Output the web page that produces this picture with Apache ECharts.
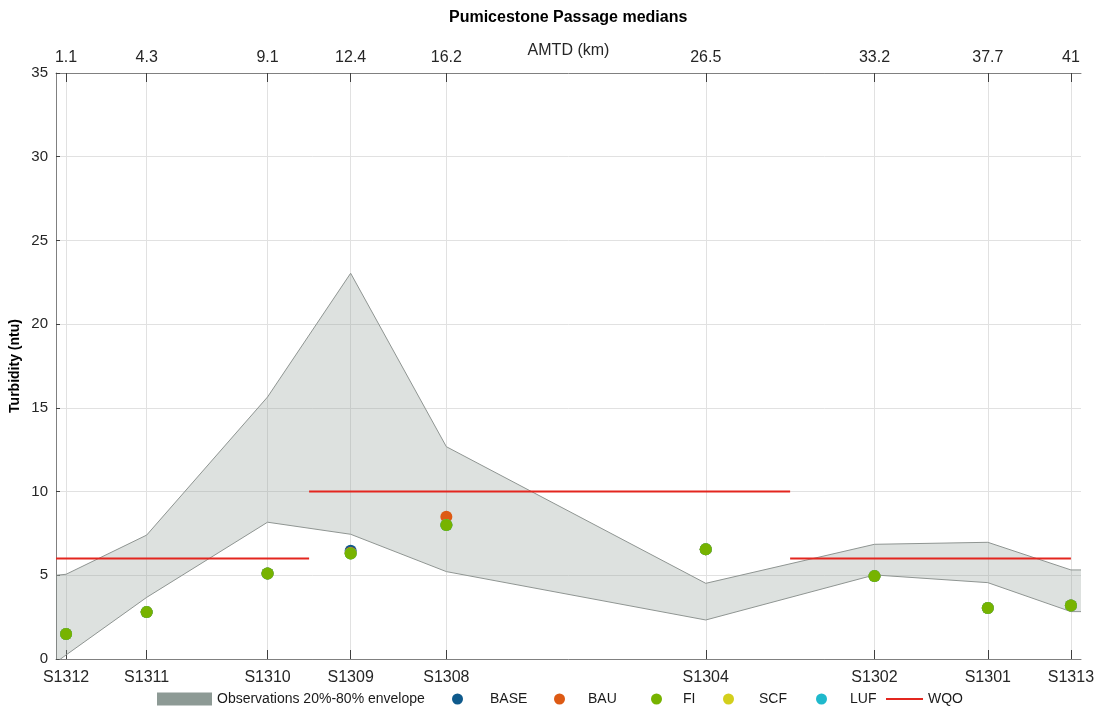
<!DOCTYPE html>
<html>
<head>
<meta charset="utf-8">
<title>Pumicestone Passage medians</title>
<script src="https://cdn.jsdelivr.net/npm/echarts@6/dist/echarts.min.js"></script>
<style>
	html, body { margin: 0; padding: 0; background: #fff; }
	#chart { width: 1102px; height: 711px; }
</style>
</head>
<body>
<div id="chart"></div>
<script>
// sites along the passage (AMTD in km)
var siteNames = ["S1312", "S1311", "S1310", "S1309", "S1308", "S1304", "S1302", "S1301", "S1313"];
var siteAmtd = [1.1, 4.3, 9.1, 12.4, 16.2, 26.5, 33.2, 37.7, 41];

// scenario medians (ntu)
var baseMedian = [1.5, 2.8, 5.1, 6.47, 8.0, 6.55, 4.95, 3.05, 3.2];
var bauMedian = [1.5, 2.8, 5.1, 6.35, 8.5, 6.55, 4.95, 3.05, 3.2];
var fiMedian = [1.5, 2.8, 5.1, 6.3, 8.0, 6.55, 4.95, 3.05, 3.2];
var scfMedian = [1.5, 2.8, 5.1, 6.3, 8.0, 6.55, 4.95, 3.05, 3.2];
var lufMedian = [1.5, 2.8, 5.1, 6.3, 8.0, 6.55, 4.95, 3.05, 3.2];

// observations 20%-80% envelope
var envAmtd = [0.7, 1.1, 4.3, 9.1, 12.4, 16.2, 26.5, 33.2, 37.7, 41, 41.4];
var envLow = [-0.2, 0.24, 3.68, 8.17, 7.45, 5.22, 2.33, 5.02, 4.56, 2.83, 2.83];
var envHigh = [5.0, 5.06, 7.4, 15.65, 23.04, 12.68, 4.52, 6.85, 6.97, 5.32, 5.32];

// water quality objective
var wqoFrom = [0.7, 10.75, 29.85];
var wqoTo = [10.75, 29.85, 41];
var wqoValue = [6, 10, 6];

var yTicks = [0, 5, 10, 15, 20, 25, 30, 35];

var font = "'Liberation Sans', Arial, sans-serif";
var textColor = "#262626";
var axisColor = "#808080";

function pairs(xs, ys) {
	var out = [];
	for (var i = 0; i < xs.length; i++) {
		out.push([xs[i], ys[i]]);
	}
	return out;
}

// envelope rows are [value, amtd] so the stack runs on the value dimension
var lowData = [];
var bandData = [];
for (var i = 0; i < envAmtd.length; i++) {
	lowData.push([envLow[i], envAmtd[i]]);
	bandData.push([envHigh[i] - envLow[i], envAmtd[i]]);
}

var wqoData = [];
for (var j = 0; j < wqoValue.length; j++) {
	if (j > 0) {
		wqoData.push([wqoFrom[j], "-"]);
	}
	wqoData.push([wqoFrom[j], wqoValue[j]]);
	wqoData.push([wqoTo[j], wqoValue[j]]);
}

function dotSeries(name, data, color) {
	return {
		name: name,
		type: "scatter",
		symbol: "circle",
		symbolSize: 12,
		itemStyle: { color: color, opacity: 1 },
		data: pairs(siteAmtd, data),
		z: 5
	};
}

// one legend per entry, so the gaps follow the original
function legendItem(name, left, w, h, textPad, top) {
	return {
		data: [name],
		left: left,
		top: top || 692,
		padding: 0,
		icon: "rect",
		itemWidth: w,
		itemHeight: h,
		selectedMode: false,
		textStyle: { fontFamily: font, fontSize: 14, color: "#1a1a1a", padding: [0, 0, 0, textPad] }
	};
}

function dotLegend(name, left, textPad) {
	var lg = legendItem(name, left, 11, 11, textPad);
	lg.icon = "circle";
	return lg;
}

var chart = echarts.init(document.getElementById("chart"));

var option = {
	backgroundColor: "#fff",
	animation: false,
	title: {
		text: "Pumicestone Passage medians",
		left: 449,
		top: 10,
		padding: 0,
		textStyle: { fontFamily: font, fontSize: 16, fontWeight: "bold", color: "#000" }
	},
	legend: [
		legendItem("Observations 20%-80% envelope", 157, 55, 13, 0),
		dotLegend("BASE", 452, 22),
		dotLegend("BAU", 554, 18),
		dotLegend("FI", 651, 16),
		dotLegend("SCF", 723, 20),
		dotLegend("LUF", 816, 18),
		legendItem("WQO", 886, 37, 2, 0, 692)
	],
	grid: {
		left: 56,
		right: 21,
		top: 73,
		bottom: 52
	},
	xAxis: [
		{
			type: "value",
			min: 0.7,
			max: 41.4,
			position: "bottom",
			axisLine: { show: true, lineStyle: { color: axisColor, width: 1 } },
			axisTick: { show: true, inside: true, length: 9, customValues: siteAmtd, lineStyle: { color: "#404040" } },
			axisLabel: {
				customValues: siteAmtd,
				margin: 11,
				fontFamily: font,
				fontSize: 16,
				color: textColor,
				formatter: function (v) {
					var k = siteAmtd.indexOf(v);
					return k >= 0 ? siteNames[k] : "";
				}
			},
			splitLine: { show: true, lineStyle: { color: "#e1e1e1", width: 1 } }
		},
		{
			type: "value",
			min: 0.7,
			max: 41.4,
			position: "top",
			name: "AMTD (km)",
			nameLocation: "middle",
			nameGap: 14,
			nameMoveOverlap: false,
			nameTextStyle: { fontFamily: font, fontSize: 16, color: textColor },
			axisLine: { show: true, lineStyle: { color: axisColor, width: 1 } },
			axisTick: { show: true, inside: true, length: 9, customValues: siteAmtd, lineStyle: { color: "#404040" } },
			axisLabel: {
				customValues: siteAmtd,
				margin: 7,
				fontFamily: font,
				fontSize: 16,
				color: textColor
			},
			splitLine: { show: false }
		}
	],
	yAxis: {
		type: "value",
		min: 0,
		max: 35,
		interval: 5,
		name: "Turbidity (ntu)",
		nameLocation: "middle",
		nameGap: 34,
		nameMoveOverlap: false,
		nameTextStyle: { fontFamily: font, fontSize: 14, fontWeight: "bold", color: "#000" },
		axisLine: { show: true, lineStyle: { color: axisColor, width: 1 } },
		axisTick: { show: true, inside: true, length: 4, lineStyle: { color: "#404040" } },
		axisLabel: {
			margin: 8,
			fontFamily: font,
			fontSize: 15,
			color: textColor,
			formatter: function (v) {
				return yTicks.indexOf(v) >= 0 ? String(v) : "";
			}
		},
		splitLine: { show: true, lineStyle: { color: "#e1e1e1", width: 1 } }
	},
	series: [
		{
			name: "envLow",
			type: "line",
			stack: "env",
			stackStrategy: "all",
			encode: { x: 1, y: 0 },
			symbol: "none",
			lineStyle: { color: "#8f9592", width: 1 },
			data: lowData,
			z: 1
		},
		{
			name: "Observations 20%-80% envelope",
			type: "line",
			stack: "env",
			stackStrategy: "all",
			encode: { x: 1, y: 0 },
			symbol: "none",
			lineStyle: { color: "#8f9592", width: 1 },
			itemStyle: { color: "#8d9a95" },
			areaStyle: { color: "#8d9a95", opacity: 0.3 },
			data: bandData,
			z: 1
		},
		{
			name: "WQO",
			type: "line",
			symbol: "none",
			lineStyle: { color: "#e3261f", width: 2 },
			itemStyle: { color: "#e3261f" },
			data: wqoData,
			z: 3
		},
		dotSeries("BASE", baseMedian, "#0f5a8c"),
		dotSeries("BAU", bauMedian, "#dd5a14"),
		dotSeries("SCF", scfMedian, "#d3cf1c"),
		dotSeries("LUF", lufMedian, "#1fb9cc"),
		dotSeries("FI", fiMedian, "#77b300")
	]
};

chart.setOption(option);
</script>
</body>
</html>
